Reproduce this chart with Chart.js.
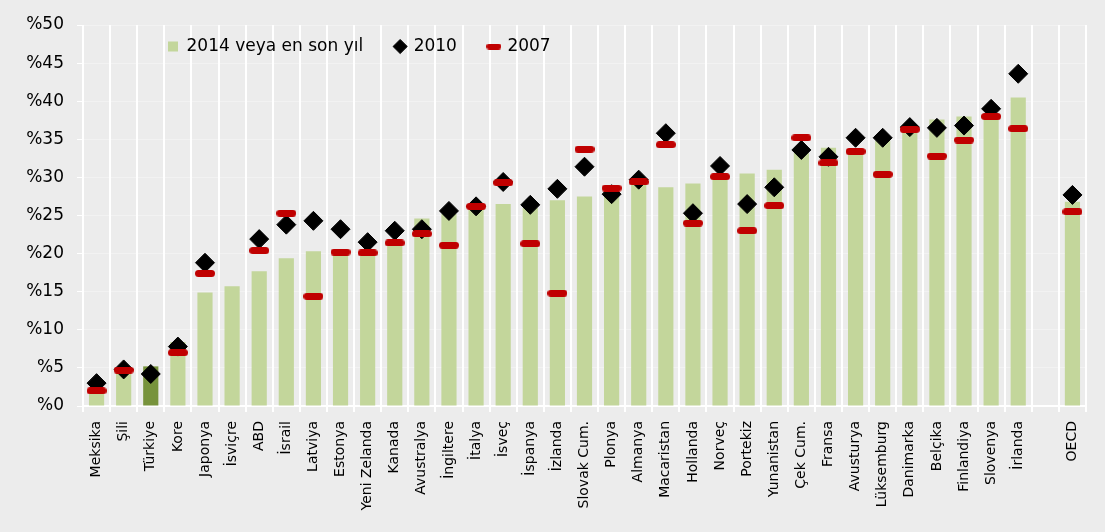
<!DOCTYPE html>
<html>
<head>
<meta charset="utf-8">
<script src="https://cdn.jsdelivr.net/npm/chart.js@4"></script>
<style>
  html, body { margin: 0; padding: 0; background: #ececec; }
  #wrap { width: 1105px; height: 532px; }
</style>
</head>
<body>
<div id="wrap"><canvas id="chart" width="1105" height="532"></canvas></div>
<script>
// categories (empty slot before OECD)
var countries = ['Meksika', 'Şili', 'Türkiye', 'Kore', 'Japonya', 'İsviçre', 'ABD', 'İsrail', 'Latviya',
  'Estonya', 'Yeni Zelanda', 'Kanada', 'Avustralya', 'İngiltere', 'İtalya', 'İsveç', 'İspanya', 'İzlanda',
  'Slovak Cum.', 'Plonya', 'Almanya', 'Macaristan', 'Hollanda', 'Norveç', 'Portekiz', 'Yunanistan',
  'Çek Cum.', 'Fransa', 'Avusturya', 'Lüksemburg', 'Danimarka', 'Belçika', 'Finlandiya', 'Slovenya',
  'İrlanda', '', 'OECD'];

var latest = [1.6, 4.4, 5.2, 8.4, 14.9, 15.7, 17.7, 19.4, 20.3, 20.0, 19.7, 21.0, 24.6, 25.2, 25.8, 26.5,
  26.0, 27.0, 27.5, 28.2, 29.2, 28.7, 29.2, 30.2, 30.5, 31.0, 33.2, 33.9, 33.5, 34.8, 36.0, 37.6, 38.0,
  37.8, 40.5, null, 26.8];

var y2010 = [3.0, 4.8, 4.2, 7.8, 18.8, null, 21.9, 23.8, 24.3, 23.2, 21.5, 23.0, 23.2, 25.6, 26.2, 29.4,
  26.4, 28.5, 31.4, 27.8, 29.7, 35.8, 25.3, 31.5, 26.5, 28.7, 33.6, 32.7, 35.2, 35.2, 36.6, 36.5, 36.8,
  39.0, 43.6, null, 27.7];

var y2007 = [2.0, 4.7, null, 7.0, 17.4, null, 20.4, 25.3, 14.4, 20.2, 20.1, 21.4, 22.6, 21.1, 26.2, 29.3,
  21.3, 14.8, 33.7, 28.6, 29.4, 34.3, 24.0, 30.1, 23.0, 26.3, 35.2, 31.9, 33.4, 30.4, 36.3, 32.8, 34.9,
  38.0, 36.4, null, 25.5];

var seriesNames = ['2014 veya en son yıl', '2010', '2007'];

var FONT = 'DejaVu Sans';
var lightGreen = '#c3d69b';
var darkGreen = '#77933c';
var red = '#c00000';

// red rounded dash used as point style
function dash(w, h, color) {
  var c = document.createElement('canvas');
  c.width = w; c.height = h;
  var g = c.getContext('2d');
  var r = h / 2;
  g.fillStyle = color;
  g.beginPath();
  g.moveTo(r, 0);
  g.lineTo(w - r, 0);
  g.arc(w - r, r, r, -Math.PI / 2, Math.PI / 2);
  g.lineTo(r, h);
  g.arc(r, r, r, Math.PI / 2, Math.PI * 1.5);
  g.closePath();
  g.fill();
  return c;
}
var bigDash = dash(20, 7, red);
var smallDash = dash(15, 6, red);

var barColors = countries.map(function (c) { return c === 'Türkiye' ? darkGreen : lightGreen; });

// put the legend inside the plot area, like the original
var legendMover = {
  id: 'legendMover',
  afterLayout: function (chart) {
    var lg = chart.legend;
    lg.left = 136;
    lg.right = lg.left + 1000;
    lg.top = 6;
    lg.bottom = lg.top + 90;
  }
};

new Chart(document.getElementById('chart').getContext('2d'), {
  type: 'bar',
  data: {
    labels: countries,
    datasets: [{
      label: seriesNames[0],
      data: latest,
      backgroundColor: barColors,
      pointStyle: 'rect',
      barPercentage: 0.56,
      categoryPercentage: 1,
      order: 3
    }, {
      type: 'line',
      label: seriesNames[1],
      data: y2010,
      showLine: false,
      pointStyle: 'rectRot',
      pointRadius: 9.5,
      pointBackgroundColor: '#000',
      pointBorderColor: '#000',
      pointBorderWidth: 1,
      backgroundColor: '#000',
      borderColor: '#000',
      order: 2
    }, {
      type: 'line',
      label: seriesNames[2],
      data: y2007,
      showLine: false,
      pointStyle: bigDash,
      pointRadius: 10,
      backgroundColor: red,
      borderColor: red,
      order: 1
    }]
  },
  options: {
    responsive: false,
    animation: false,
    layout: { padding: { left: 0, right: 19, top: 0, bottom: 0 } },
    plugins: {
      tooltip: { enabled: false },
      legend: {
        position: 'top',
        align: 'start',
        maxHeight: 25,
        labels: {
          usePointStyle: true,
          boxWidth: 10,
          boxHeight: 10,
          padding: 32,
          color: '#000',
          font: { family: FONT, size: 17 },
          sort: function (a, b) { return a.datasetIndex - b.datasetIndex; },
          generateLabels: function (chart) {
            var items = Chart.defaults.plugins.legend.labels.generateLabels(chart);
            items.forEach(function (it) {
              if (it.datasetIndex === 2) it.pointStyle = smallDash;
            });
            return items;
          }
        }
      }
    },
    scales: {
      x: {
        offset: true,
        grid: {
          offset: true,
          color: '#ffffff',
          lineWidth: 2,
          tickColor: '#ffffff',
          tickLength: 6
        },
        border: { display: true, color: '#ffffff', width: 2 },
        ticks: {
          autoSkip: false,
          minRotation: 90,
          maxRotation: 90,
          padding: 9,
          color: '#000',
          font: { family: FONT, size: 14 }
        },
        afterFit: function (s) { s.height = 126; }
      },
      y: {
        min: 0,
        max: 50,
        grid: {
          color: 'rgba(255,255,255,0.35)',
          lineWidth: 1,
          tickColor: '#ffffff',
          tickLength: 6
        },
        border: { display: false },
        ticks: {
          stepSize: 5,
          padding: 13,
          color: '#000',
          font: { family: FONT, size: 17 },
          callback: function (v) { return '%' + v; }
        },
        afterFit: function (s) { s.width = 83; }
      }
    }
  },
  plugins: [legendMover]
});
</script>
</body>
</html>
